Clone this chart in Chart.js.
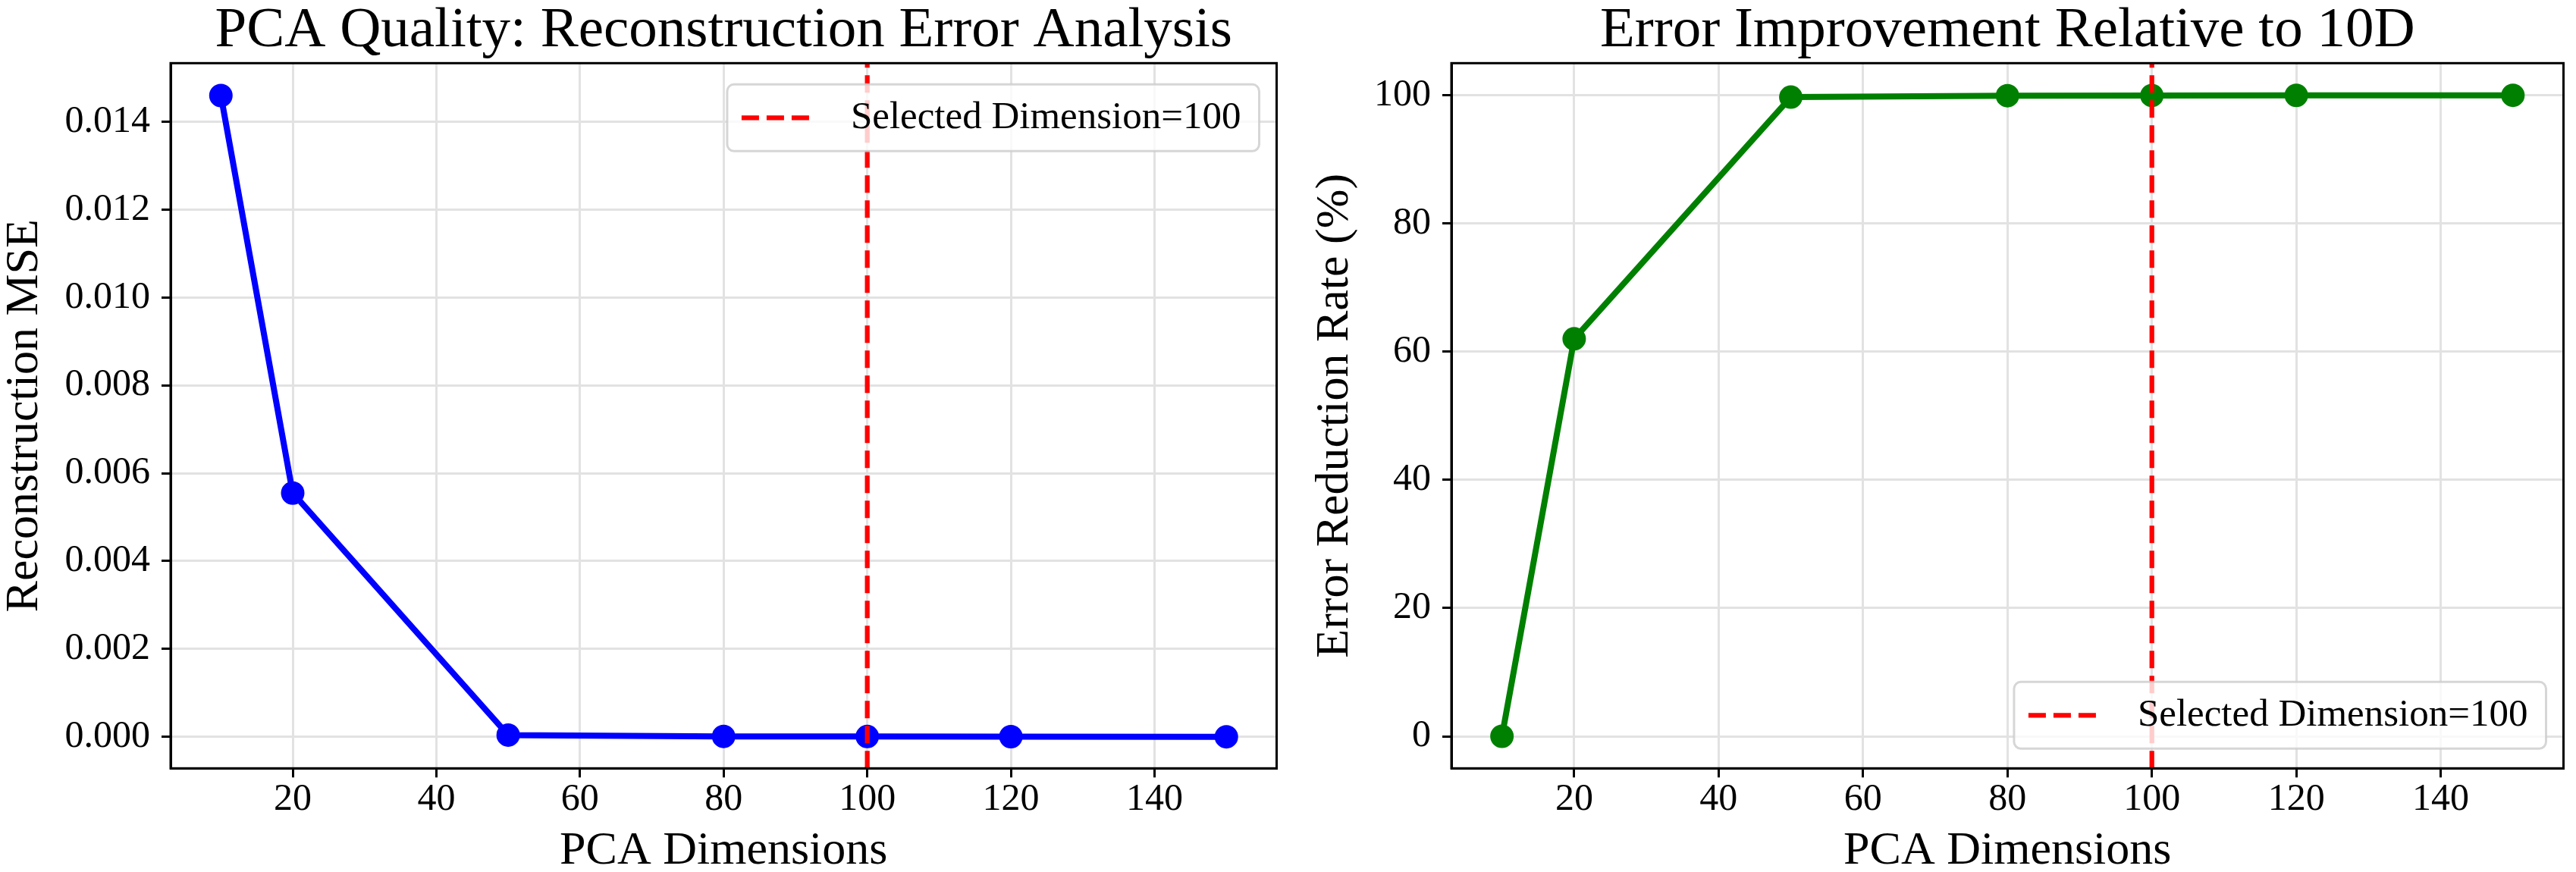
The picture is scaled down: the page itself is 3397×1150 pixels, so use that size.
<!DOCTYPE html>
<html>
<head>
<meta charset="utf-8">
<script src="https://cdn.jsdelivr.net/npm/chart.js@4.4.1/dist/chart.umd.min.js"></script>
<style>
html,body{margin:0;padding:0;background:#fff;width:3397px;height:1150px;overflow:hidden}
canvas{position:absolute;top:0}
#c1{left:0}
#c2{left:1700px}
</style>
</head>
<body>
<canvas id="c1" width="1700" height="1150"></canvas>
<canvas id="c2" width="1697" height="1150"></canvas>
<script>
// ---- data ----
const dims = [10, 20, 50, 80, 100, 120, 150];
const mse = [0.0146, 0.00555, 0.00004, 0.00001, 0.000006, 0.000003, 0.0000012];
const improvement = [0, 62.0, 99.7, 99.93, 99.96, 99.98, 99.99];
const selectedDim = 100;

const xTicks = [20, 40, 60, 80, 100, 120, 140];
const xTickLabels = ['20', '40', '60', '80', '100', '120', '140'];
const mseTicks = [0, 0.002, 0.004, 0.006, 0.008, 0.010, 0.012, 0.014];
const mseTickLabels = ['0.000', '0.002', '0.004', '0.006', '0.008', '0.010', '0.012', '0.014'];
const impTicks = [0, 20, 40, 60, 80, 100];
const impTickLabels = ['0', '20', '40', '60', '80', '100'];

const xRange = [3, 157];
const mseRange = [-0.000718, 0.015336];
const impRange = [-5, 105];

const titles = ['PCA Quality: Reconstruction Error Analysis', 'Error Improvement Relative to 10D'];
const xLabel = 'PCA Dimensions';
const yLabels = ['Reconstruction MSE', 'Error Reduction Rate (%)'];
const legendLabel = 'Selected Dimension=' + selectedDim;

// ---- styling / plugins ----
const FONT = '"Liberation Serif", "Times New Roman", serif';
Chart.defaults.font.family = FONT;
Chart.defaults.color = '#000';

const framePlugin = {
  id: 'frame',
  afterDatasetsDraw(chart) {
    const {ctx, chartArea: a} = chart;
    ctx.save();
    ctx.strokeStyle = '#000';
    ctx.lineWidth = 3;
    ctx.strokeRect(a.left, a.top, a.right - a.left, a.bottom - a.top);
    ctx.restore();
  }
};

const legendPlugin = {
  id: 'mplLegend',
  afterDatasetsDraw(chart, args, opts) {
    const {ctx, chartArea: a} = chart;
    const fs = 51;
    ctx.save();
    ctx.font = fs + 'px ' + FONT;
    const tw = ctx.measureText(opts.text).width;
    const w = 163 + tw + 24;
    const h = 88;
    const x = a.right - 23 - w;
    const y = opts.loc === 'upper' ? a.top + 28 : a.bottom - 26 - h;
    const r = 9;
    ctx.beginPath();
    ctx.moveTo(x + r, y);
    ctx.lineTo(x + w - r, y);
    ctx.arcTo(x + w, y, x + w, y + r, r);
    ctx.lineTo(x + w, y + h - r);
    ctx.arcTo(x + w, y + h, x + w - r, y + h, r);
    ctx.lineTo(x + r, y + h);
    ctx.arcTo(x, y + h, x, y + h - r, r);
    ctx.lineTo(x, y + r);
    ctx.arcTo(x, y, x + r, y, r);
    ctx.closePath();
    ctx.fillStyle = 'rgba(255,255,255,0.8)';
    ctx.fill();
    ctx.strokeStyle = 'rgba(204,204,204,0.8)';
    ctx.lineWidth = 3;
    ctx.stroke();
    // handle
    const cy = y + h / 2;
    ctx.beginPath();
    ctx.setLineDash([23, 10]);
    ctx.strokeStyle = '#ff0000';
    ctx.lineWidth = 6.25;
    ctx.moveTo(x + 19, cy);
    ctx.lineTo(x + 118, cy);
    ctx.stroke();
    ctx.setLineDash([]);
    ctx.fillStyle = '#000';
    ctx.textBaseline = 'middle';
    ctx.textAlign = 'left';
    ctx.fillText(opts.text, x + 163, cy);
    ctx.restore();
  }
};

function makeChart(id, cfg) {
  return new Chart(document.getElementById(id), {
    type: 'line',
    data: {
      datasets: [
        {
          label: legendLabel,
          data: [{x: selectedDim, y: cfg.yRange[0]}, {x: selectedDim, y: cfg.yRange[1]}],
          borderColor: '#ff0000',
          borderWidth: 6.25,
          borderDash: [23, 10],
          pointRadius: 0,
          fill: false
        },
        {
          label: cfg.seriesLabel,
          data: dims.map((d, i) => ({x: d, y: cfg.values[i]})),
          borderColor: cfg.color,
          backgroundColor: cfg.color,
          borderWidth: 8,
          borderJoinStyle: 'round',
          pointRadius: 14.5,
          pointBorderWidth: 2,
          pointBackgroundColor: cfg.color,
          pointBorderColor: cfg.color,
          tension: 0,
          fill: false
        }
      ]
    },
    options: {
      responsive: false,
      animation: false,
      events: [],
      layout: {padding: {left: 0, top: 0, bottom: 0, right: cfg.padRight}},
      plugins: {
        legend: {display: false},
        tooltip: {enabled: false},
        title: {
          display: true, text: cfg.title, fullSize: false, color: '#000',
          font: {family: FONT, size: 75, weight: 'normal', lineHeight: 1},
          padding: {top: 4, bottom: 4.3}
        },
        mplLegend: {loc: cfg.legendLoc, text: legendLabel}
      },
      scales: {
        x: {
          type: 'linear', min: xRange[0], max: xRange[1],
          afterBuildTicks: s => { s.ticks = xTicks.map(v => ({value: v})); },
          afterFit: s => { s.height = 136.7; },
          grid: {color: '#e2e2e2', lineWidth: 3, tickColor: '#000', tickWidth: 3, tickLength: 12, drawTicks: true},
          border: {display: true, color: '#000', width: 3},
          ticks: {autoSkip: false, maxRotation: 0, padding: 5, color: '#000',
            font: {family: FONT, size: 50, lineHeight: 1},
            callback: (v, i) => xTickLabels[i]},
          title: {display: true, text: xLabel, color: '#000',
            font: {family: FONT, size: 62, lineHeight: 0.8}, padding: {top: 0, bottom: 2}}
        },
        y: {
          type: 'linear', min: cfg.yRange[0], max: cfg.yRange[1],
          afterBuildTicks: s => { s.ticks = cfg.yTicks.map(v => ({value: v})); },
          afterFit: s => { s.width = cfg.yWidth; },
          grid: {color: '#e2e2e2', lineWidth: 3, tickColor: '#000', tickWidth: 3, tickLength: 12, drawTicks: true},
          border: {display: true, color: '#000', width: 3},
          ticks: {autoSkip: false, padding: 15, color: '#000',
            font: {family: FONT, size: 50, lineHeight: 1},
            callback: (v, i) => cfg.yTickLabels[i]},
          title: {display: true, text: cfg.yLabel, color: '#000',
            font: {family: FONT, size: 62, lineHeight: 1}, padding: {top: cfg.yTitlePad, bottom: 0}}
        }
      }
    },
    plugins: [framePlugin, legendPlugin]
  });
}

makeChart('c1', {
  title: titles[0], yLabel: yLabels[0], seriesLabel: 'MSE', values: mse, color: '#0000ff',
  yRange: mseRange, yTicks: mseTicks, yTickLabels: mseTickLabels,
  yWidth: 225, padRight: 6, yTitlePad: 1.5, legendLoc: 'upper'
});
makeChart('c2', {
  title: titles[1], yLabel: yLabels[1], seriesLabel: 'Improvement', values: improvement, color: '#008000',
  yRange: impRange, yTicks: impTicks, yTickLabels: impTickLabels,
  yWidth: 214, padRight: 12, yTitlePad: 30, legendLoc: 'lower'
});
</script>
</body>
</html>
